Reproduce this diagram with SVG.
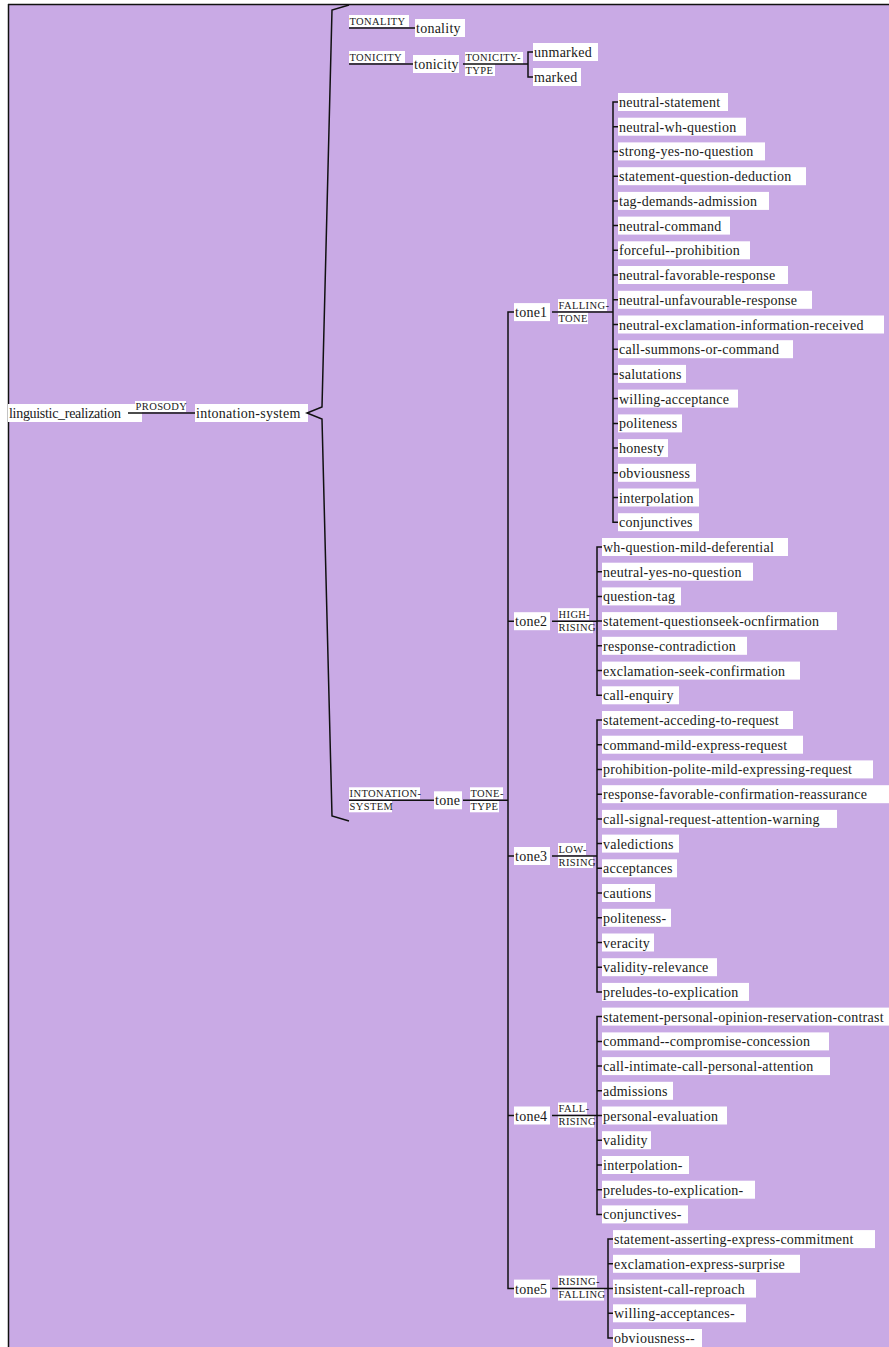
<svg xmlns="http://www.w3.org/2000/svg" width="889" height="1347" viewBox="0 0 889 1347">
<style>
.bg{fill:#C9AAE5}
.box{fill:#fff}
.t{font-family:'Liberation Serif','Times New Roman',Times,serif;font-size:14px;letter-spacing:.25px;fill:#1a1a1a}
.l{font-family:'Liberation Serif','Times New Roman',Times,serif;font-size:10.5px;letter-spacing:.4px;fill:#1a1a1a}
.c{stroke:#111;stroke-width:1.5;fill:none}
</style>
<rect x="0" y="0" width="889" height="1347" fill="#fff"/>
<rect class="bg" x="8" y="4" width="881" height="1343"/>
<path class="c" d="M8,4.5H889 M8.5,4V1347"/>

<g id="nodes">
<g id="n-linguistic_realization" transform="translate(8,413)"><rect class="box" x="0" y="-9" width="134" height="18"/><text class="t" x="1" y="5" style="letter-spacing:-0.3px">linguistic_realization</text></g>
<g id="n-intonation-system" transform="translate(195,413)"><rect class="box" x="0" y="-9" width="113" height="18"/><text class="t" x="1" y="5">intonation-system</text></g>
<g id="n-tonality" transform="translate(415,28)"><rect class="box" x="0" y="-9" width="50" height="18"/><text class="t" x="1" y="5">tonality</text></g>
<g id="n-tonicity" transform="translate(413,64)"><rect class="box" x="0" y="-9" width="46" height="18"/><text class="t" x="1" y="5">tonicity</text></g>
<g id="n-unmarked" transform="translate(533,52)"><rect class="box" x="0" y="-9" width="65" height="18"/><text class="t" x="1" y="5">unmarked</text></g>
<g id="n-marked" transform="translate(533,77)"><rect class="box" x="0" y="-9" width="48" height="18"/><text class="t" x="1" y="5">marked</text></g>
<g id="n-tone" transform="translate(434,800.3)"><rect class="box" x="0" y="-9" width="28" height="18"/><text class="t" x="1" y="5">tone</text></g>
<g id="n-tone1" transform="translate(514,312.1)"><rect class="box" x="0" y="-9" width="36" height="18"/><text class="t" x="1" y="5">tone1</text></g>
<g id="n-tone2" transform="translate(514,621.2)"><rect class="box" x="0" y="-9" width="36" height="18"/><text class="t" x="1" y="5">tone2</text></g>
<g id="n-tone3" transform="translate(514,856)"><rect class="box" x="0" y="-9" width="36" height="18"/><text class="t" x="1" y="5">tone3</text></g>
<g id="n-tone4" transform="translate(514,1115.5)"><rect class="box" x="0" y="-9" width="36" height="18"/><text class="t" x="1" y="5">tone4</text></g>
<g id="n-tone5" transform="translate(514,1288.6)"><rect class="box" x="0" y="-9" width="36" height="18"/><text class="t" x="1" y="5">tone5</text></g>

<g id="n-neutral-statement" transform="translate(618,102)"><rect class="box" x="0" y="-9" width="110" height="18"/><text class="t" x="1" y="5">neutral-statement</text></g>
<g id="n-neutral-wh-question" transform="translate(618,126.7)"><rect class="box" x="0" y="-9" width="128" height="18"/><text class="t" x="1" y="5">neutral-wh-question</text></g>
<g id="n-strong-yes-no-question" transform="translate(618,151.4)"><rect class="box" x="0" y="-9" width="147" height="18"/><text class="t" x="1" y="5">strong-yes-no-question</text></g>
<g id="n-statement-question-deduction" transform="translate(618,176.2)"><rect class="box" x="0" y="-9" width="188" height="18"/><text class="t" x="1" y="5">statement-question-deduction</text></g>
<g id="n-tag-demands-admission" transform="translate(618,200.9)"><rect class="box" x="0" y="-9" width="151" height="18"/><text class="t" x="1" y="5">tag-demands-admission</text></g>
<g id="n-neutral-command" transform="translate(618,225.6)"><rect class="box" x="0" y="-9" width="112" height="18"/><text class="t" x="1" y="5">neutral-command</text></g>
<g id="n-forceful--prohibition" transform="translate(618,250.3)"><rect class="box" x="0" y="-9" width="132" height="18"/><text class="t" x="1" y="5">forceful--prohibition</text></g>
<g id="n-neutral-favorable-response" transform="translate(618,275)"><rect class="box" x="0" y="-9" width="170" height="18"/><text class="t" x="1" y="5">neutral-favorable-response</text></g>
<g id="n-neutral-unfavourable-response" transform="translate(618,299.8)"><rect class="box" x="0" y="-9" width="194" height="18"/><text class="t" x="1" y="5">neutral-unfavourable-response</text></g>
<g id="n-neutral-exclamation-information-received" transform="translate(618,324.5)"><rect class="box" x="0" y="-9" width="266" height="18"/><text class="t" x="1" y="5">neutral-exclamation-information-received</text></g>
<g id="n-call-summons-or-command" transform="translate(618,349.2)"><rect class="box" x="0" y="-9" width="175" height="18"/><text class="t" x="1" y="5">call-summons-or-command</text></g>
<g id="n-salutations" transform="translate(618,373.9)"><rect class="box" x="0" y="-9" width="68" height="18"/><text class="t" x="1" y="5">salutations</text></g>
<g id="n-willing-acceptance" transform="translate(618,398.6)"><rect class="box" x="0" y="-9" width="120" height="18"/><text class="t" x="1" y="5">willing-acceptance</text></g>
<g id="n-politeness" transform="translate(618,423.4)"><rect class="box" x="0" y="-9" width="64" height="18"/><text class="t" x="1" y="5">politeness</text></g>
<g id="n-honesty" transform="translate(618,448.1)"><rect class="box" x="0" y="-9" width="50" height="18"/><text class="t" x="1" y="5">honesty</text></g>
<g id="n-obviousness" transform="translate(618,472.8)"><rect class="box" x="0" y="-9" width="78" height="18"/><text class="t" x="1" y="5">obviousness</text></g>
<g id="n-interpolation" transform="translate(618,497.5)"><rect class="box" x="0" y="-9" width="81" height="18"/><text class="t" x="1" y="5">interpolation</text></g>
<g id="n-conjunctives" transform="translate(618,522.2)"><rect class="box" x="0" y="-9" width="81" height="18"/><text class="t" x="1" y="5">conjunctives</text></g>

<g id="n-wh-question-mild-deferential" transform="translate(602,547)"><rect class="box" x="0" y="-9" width="186" height="18"/><text class="t" x="1" y="5">wh-question-mild-deferential</text></g>
<g id="n-neutral-yes-no-question" transform="translate(602,571.7)"><rect class="box" x="0" y="-9" width="151" height="18"/><text class="t" x="1" y="5">neutral-yes-no-question</text></g>
<g id="n-question-tag" transform="translate(602,596.4)"><rect class="box" x="0" y="-9" width="79" height="18"/><text class="t" x="1" y="5">question-tag</text></g>
<g id="n-statement-questionseek-ocnfirmation" transform="translate(602,621.1)"><rect class="box" x="0" y="-9" width="235" height="18"/><text class="t" x="1" y="5">statement-questionseek-ocnfirmation</text></g>
<g id="n-response-contradiction" transform="translate(602,645.8)"><rect class="box" x="0" y="-9" width="145" height="18"/><text class="t" x="1" y="5">response-contradiction</text></g>
<g id="n-exclamation-seek-confirmation" transform="translate(602,670.6)"><rect class="box" x="0" y="-9" width="198" height="18"/><text class="t" x="1" y="5">exclamation-seek-confirmation</text></g>
<g id="n-call-enquiry" transform="translate(602,695.3)"><rect class="box" x="0" y="-9" width="77" height="18"/><text class="t" x="1" y="5">call-enquiry</text></g>

<g id="n-statement-acceding-to-request" transform="translate(602,720)"><rect class="box" x="0" y="-9" width="191" height="18"/><text class="t" x="1" y="5">statement-acceding-to-request</text></g>
<g id="n-command-mild-express-request" transform="translate(602,744.7)"><rect class="box" x="0" y="-9" width="201" height="18"/><text class="t" x="1" y="5">command-mild-express-request</text></g>
<g id="n-prohibition-polite-mild-expressing-request" transform="translate(602,769.4)"><rect class="box" x="0" y="-9" width="271" height="18"/><text class="t" x="1" y="5">prohibition-polite-mild-expressing-request</text></g>
<g id="n-response-favorable-confirmation-reassurance" transform="translate(602,794.2)"><rect class="box" x="0" y="-9" width="287" height="18"/><text class="t" x="1" y="5">response-favorable-confirmation-reassurance</text></g>
<g id="n-call-signal-request-attention-warning" transform="translate(602,818.9)"><rect class="box" x="0" y="-9" width="235" height="18"/><text class="t" x="1" y="5">call-signal-request-attention-warning</text></g>
<g id="n-valedictions" transform="translate(602,843.6)"><rect class="box" x="0" y="-9" width="77" height="18"/><text class="t" x="1" y="5">valedictions</text></g>
<g id="n-acceptances" transform="translate(602,868.3)"><rect class="box" x="0" y="-9" width="75" height="18"/><text class="t" x="1" y="5">acceptances</text></g>
<g id="n-cautions" transform="translate(602,893)"><rect class="box" x="0" y="-9" width="53" height="18"/><text class="t" x="1" y="5">cautions</text></g>
<g id="n-politeness-" transform="translate(602,917.8)"><rect class="box" x="0" y="-9" width="69" height="18"/><text class="t" x="1" y="5">politeness-</text></g>
<g id="n-veracity" transform="translate(602,942.5)"><rect class="box" x="0" y="-9" width="52" height="18"/><text class="t" x="1" y="5">veracity</text></g>
<g id="n-validity-relevance" transform="translate(602,967.2)"><rect class="box" x="0" y="-9" width="115" height="18"/><text class="t" x="1" y="5">validity-relevance</text></g>
<g id="n-preludes-to-explication" transform="translate(602,991.9)"><rect class="box" x="0" y="-9" width="147" height="18"/><text class="t" x="1" y="5">preludes-to-explication</text></g>

<g id="n-statement-personal-opinion-reservation-contrast" transform="translate(602,1016.6)"><rect class="box" x="0" y="-9" width="287" height="18"/><text class="t" x="1" y="5">statement-personal-opinion-reservation-contrast</text></g>
<g id="n-command--compromise-concession" transform="translate(602,1041.4)"><rect class="box" x="0" y="-9" width="227" height="18"/><text class="t" x="1" y="5">command--compromise-concession</text></g>
<g id="n-call-intimate-call-personal-attention" transform="translate(602,1066.1)"><rect class="box" x="0" y="-9" width="228" height="18"/><text class="t" x="1" y="5">call-intimate-call-personal-attention</text></g>
<g id="n-admissions" transform="translate(602,1090.8)"><rect class="box" x="0" y="-9" width="71" height="18"/><text class="t" x="1" y="5">admissions</text></g>
<g id="n-personal-evaluation" transform="translate(602,1115.5)"><rect class="box" x="0" y="-9" width="125" height="18"/><text class="t" x="1" y="5">personal-evaluation</text></g>
<g id="n-validity" transform="translate(602,1140.2)"><rect class="box" x="0" y="-9" width="49" height="18"/><text class="t" x="1" y="5">validity</text></g>
<g id="n-interpolation-" transform="translate(602,1165)"><rect class="box" x="0" y="-9" width="87" height="18"/><text class="t" x="1" y="5">interpolation-</text></g>
<g id="n-preludes-to-explication-" transform="translate(602,1189.7)"><rect class="box" x="0" y="-9" width="153" height="18"/><text class="t" x="1" y="5">preludes-to-explication-</text></g>
<g id="n-conjunctives-" transform="translate(602,1214.4)"><rect class="box" x="0" y="-9" width="86" height="18"/><text class="t" x="1" y="5">conjunctives-</text></g>

<g id="n-statement-asserting-express-commitment" transform="translate(613,1239.1)"><rect class="box" x="0" y="-9" width="262" height="18"/><text class="t" x="1" y="5">statement-asserting-express-commitment</text></g>
<g id="n-exclamation-express-surprise" transform="translate(613,1263.8)"><rect class="box" x="0" y="-9" width="187" height="18"/><text class="t" x="1" y="5">exclamation-express-surprise</text></g>
<g id="n-insistent-call-reproach" transform="translate(613,1288.6)"><rect class="box" x="0" y="-9" width="143" height="18"/><text class="t" x="1" y="5">insistent-call-reproach</text></g>
<g id="n-willing-acceptances-" transform="translate(613,1313.3)"><rect class="box" x="0" y="-9" width="133" height="18"/><text class="t" x="1" y="5">willing-acceptances-</text></g>
<g id="n-obviousness--" transform="translate(613,1338)"><rect class="box" x="0" y="-9" width="89" height="18"/><text class="t" x="1" y="5">obviousness--</text></g>
</g>

<g id="edge-labels">
<g transform="translate(135,413)"><rect class="box" x="0" y="-12" width="51" height="11"/><text class="l" x="0.5" y="-3">PROSODY</text></g>
<g transform="translate(349,28)"><rect class="box" x="0" y="-13" width="60" height="12"/><text class="l" x="0.5" y="-3.5">TONALITY</text></g>
<g transform="translate(349,64)"><rect class="box" x="0" y="-13" width="56" height="12"/><text class="l" x="0.5" y="-3.5">TONICITY</text></g>
<g transform="translate(465,64)"><rect class="box" x="0" y="-12" width="58" height="12"/><text class="l" x="0.5" y="-3">TONICITY-</text><rect class="box" x="0" y="0" width="30" height="12"/><text class="l" x="0.5" y="9.5">TYPE</text></g>
<g transform="translate(349,800.3)"><rect class="box" x="0" y="-13" width="71" height="12"/><text class="l" x="0.5" y="-3.5">INTONATION-</text><rect class="box" x="0" y="0" width="43" height="12"/><text class="l" x="0.5" y="9.5">SYSTEM</text></g>
<g transform="translate(470,800.3)"><rect class="box" x="0" y="-13" width="33" height="12"/><text class="l" x="0.5" y="-3.5">TONE-</text><rect class="box" x="0" y="0" width="29" height="12"/><text class="l" x="0.5" y="9.5">TYPE</text></g>
<g transform="translate(558,312.1)"><rect class="box" x="0" y="-13" width="49" height="12"/><text class="l" x="0.5" y="-3.5">FALLING-</text><rect class="box" x="0" y="0" width="30" height="12"/><text class="l" x="0.5" y="9.5">TONE</text></g>
<g transform="translate(558,621.2)"><rect class="box" x="0" y="-13" width="31" height="12"/><text class="l" x="0.5" y="-3.5">HIGH-</text><rect class="box" x="0" y="0" width="35" height="12"/><text class="l" x="0.5" y="9.5">RISING</text></g>
<g transform="translate(558,856)"><rect class="box" x="0" y="-13" width="28" height="12"/><text class="l" x="0.5" y="-3.5">LOW-</text><rect class="box" x="0" y="0" width="35" height="12"/><text class="l" x="0.5" y="9.5">RISING</text></g>
<g transform="translate(558,1115.5)"><rect class="box" x="0" y="-13" width="29" height="12"/><text class="l" x="0.5" y="-3.5">FALL-</text><rect class="box" x="0" y="0" width="36" height="12"/><text class="l" x="0.5" y="9.5">RISING</text></g>
<g transform="translate(558,1288.6)"><rect class="box" x="0" y="-13" width="39" height="12"/><text class="l" x="0.5" y="-3.5">RISING-</text><rect class="box" x="0" y="0" width="46" height="12"/><text class="l" x="0.5" y="9.5">FALLING</text></g>
</g>

<g id="connectors">
<path class="c" d="M128,413H195"/>
<path class="c" d="M349,5 L332,10 L322,407 L307,413 L322,419 L332,816 L349,821"/>
<path class="c" d="M349,28H415"/>
<path class="c" d="M349,64H413"/>
<path class="c" d="M463,64H528 M533,52H528V77H533"/>
<path class="c" d="M349,800.3H434"/>
<path class="c" d="M463,800.3H508"/>
<path class="c" d="M514,312.1H508V1288.6H514 M508,621.2H514 M508,856H514 M508,1115.5H514"/>
<path class="c" d="M552,312.1H613"/>
<path class="c" d="M552,621.2H597"/>
<path class="c" d="M552,856H597"/>
<path class="c" d="M552,1115.5H597"/>
<path class="c" d="M552,1288.6H608"/>
<path class="c" d="M618,102H613V522.2H618 M613,126.7H618 M613,151.4H618 M613,176.2H618 M613,200.9H618 M613,225.6H618 M613,250.3H618 M613,275H618 M613,299.8H618 M613,324.5H618 M613,349.2H618 M613,373.9H618 M613,398.6H618 M613,423.4H618 M613,448.1H618 M613,472.8H618 M613,497.5H618"/>
<path class="c" d="M602,547H597V695.3H602 M597,571.7H602 M597,596.4H602 M597,621.1H602 M597,645.8H602 M597,670.6H602"/>
<path class="c" d="M602,720H597V991.9H602 M597,744.7H602 M597,769.4H602 M597,794.2H602 M597,818.9H602 M597,843.6H602 M597,868.3H602 M597,893H602 M597,917.8H602 M597,942.5H602 M597,967.2H602"/>
<path class="c" d="M602,1016.6H597V1214.4H602 M597,1041.4H602 M597,1066.1H602 M597,1090.8H602 M597,1115.5H602 M597,1140.2H602 M597,1165H602 M597,1189.7H602"/>
<path class="c" d="M613,1239.1H608V1338H613 M608,1263.8H613 M608,1288.6H613 M608,1313.3H613"/>
</g>
</svg>
